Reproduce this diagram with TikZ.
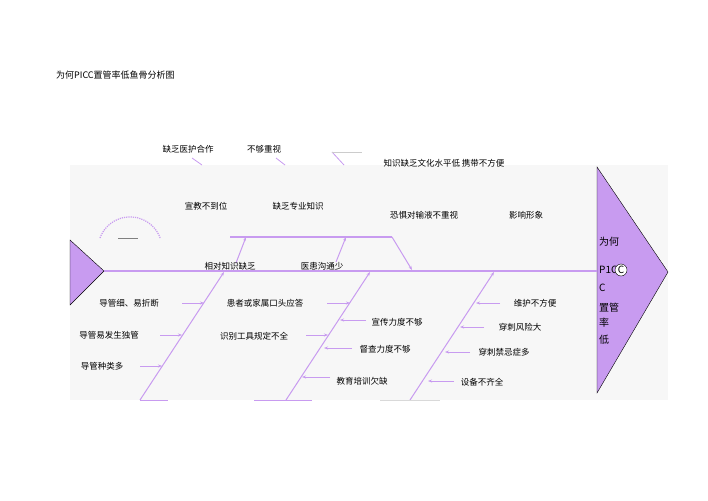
\documentclass[tikz,border=0pt]{standalone}
\usepackage{fontspec}
\setmainfont{Liberation Sans}
\newfontfamily\cjk{Noto Sans CJK SC}
\usepackage{tikz}
\usetikzlibrary{arrows.meta}
\definecolor{lav}{RGB}{200,155,240}
\tikzset{
  lbl/.style={font=\cjk\fontsize{8.5}{10}\selectfont, inner sep=1pt},
  bone/.style={draw=lav, line width=1.6pt},
  rib/.style={draw=lav, line width=1pt, -{Stealth[length=4pt]}},
  stub/.style={draw=lav, line width=0.8pt}
}
\begin{document}
\begin{tikzpicture}[x=1pt,y=-1pt]
	\useasboundingbox (0,0) rectangle (708,500);
	\fill[gray!6] (70,165) rectangle (668,400);
	\node[lbl, anchor=west, font=\cjk\fontsize{9}{11}\selectfont] (title) at (55,75) {为何PICC置管率低鱼骨分析图};
	%% spine, tail, head
	\fill[lav, draw=black, line width=0.4pt] (70,240) -- (104,271) -- (70,305) -- cycle;
	\fill[lav, draw=black, line width=0.4pt] (597,167) -- (668,272) -- (597,393) -- cycle;
	\coordinate (tail) at (104,271);
	\coordinate (head) at (597,271);
	\draw[bone] (tail) -- (head);
	\node[lbl, anchor=west, font=\cjk\fontsize{10}{12}\selectfont] (h1) at (598,242) {为何};
	\node[lbl, anchor=west, font=\cjk\fontsize{10}{12}\selectfont] (h2) at (598,270) {P1C};
	\draw[black, fill=white] (621,270) circle (6pt);
	\node[lbl, anchor=center, font=\cjk\fontsize{10}{12}\selectfont] at (621,270) {C};
	\node[lbl, anchor=west, font=\cjk\fontsize{10}{12}\selectfont] (h3) at (598,288) {C};
	\node[lbl, anchor=west, font=\cjk\fontsize{10}{12}\selectfont] (h4) at (598,308) {置管};
	\node[lbl, anchor=west, font=\cjk\fontsize{10}{12}\selectfont] (h5) at (598,323) {率};
	\node[lbl, anchor=west, font=\cjk\fontsize{10}{12}\selectfont] (h6) at (598,340) {低};
	%% dotted arc
	\draw[lav, densely dotted, line width=1.2pt] (100,238) arc[start angle=200, end angle=340, radius=32];
	\draw[gray, line width=0.4pt] (118,238) -- (138,238);
	%% upper bone
	\coordinate (u1) at (230,237);
	\coordinate (u2) at (392,237);
	\coordinate (u3) at (412,270);
	\draw[bone, line width=1.2pt] (u1) -- (u2);
	\draw[rib] (u2) -- (u3);
	\coordinate (ua) at (246,237);
	\coordinate (ub) at (346,237);
	\draw[rib] (236,263) -- (ua);
	\draw[rib] (336,262) -- (ub);
	\node[lbl] (xd) at (230,266) {相对知识缺乏};
	\node[lbl] (yh) at (322,266) {医患沟通少};
	\node[lbl] (xj) at (206,206) {宣教不到位};
	\node[lbl] (zy) at (298,206) {缺乏专业知识};
	\node[lbl] (kj) at (424,215) {恐惧对输液不重视};
	\node[lbl] (yx) at (526,215) {影响形象};
	\node[lbl] (yh2) at (188,149) {缺乏医护合作};
	\node[lbl] (bg) at (264,149) {不够重视};
	\node[lbl] (zs) at (444,163) {知识缺乏文化水平低\ 携带不方便};
	\draw[stub] (192,158) -- (202,165);
	\draw[stub] (276,158) -- (285,165);
	\draw[stub] (332,152) -- (344,165);
	\draw[gray!40, line width=0.4pt] (332,152) -- (362,152);
	%% lower bones
	\coordinate (a0) at (140,400); \coordinate (a1) at (224,272);
	\coordinate (b0) at (286,400); \coordinate (b1) at (370,272);
	\coordinate (c0) at (410,400); \coordinate (c1) at (494,272);
	\draw[rib] (a0) -- (a1);
	\draw[rib] (b0) -- (b1);
	\draw[rib] (c0) -- (c1);
	\draw[stub] (a0) -- (168,400);
	\draw[stub] (254,400) -- (312,400);
	\draw[gray!30, line width=0.6pt] (380,400) -- (440,400);
	%% causes, left of bones
	\node[lbl] (dg1) at (129,303) {导管细、易折断};
	\node[lbl] (dg2) at (109,335) {导管易发生独管};
	\node[lbl] (dg3) at (102,366) {导管种类多};
	\draw[rib] (182,303) -- (204,303);
	\draw[rib] (160,335) -- (182,335);
	\draw[rib] (140,366) -- (162,366);
	\node[lbl] (hz) at (265,303) {患者或家属口头应答};
	\node[lbl] (sb) at (254,336) {识别工具规定不全};
	\draw[rib] (327,303) -- (350,303);
	\draw[rib] (306,335) -- (328,335);
	%% causes, right of bones
	\node[lbl] (xc) at (397,322) {宣传力度不够};
	\node[lbl] (dc) at (385,349) {督查力度不够};
	\node[lbl] (jy) at (362,381) {教育培训欠缺};
	\draw[rib] (366,320) -- (340,320);
	\draw[rib] (352,348) -- (324,348);
	\draw[rib] (330,377) -- (302,377);
	\node[lbl] (wh) at (535,303) {维护不方便};
	\node[lbl] (cc) at (520,327) {穿刺风险大};
	\node[lbl] (jj) at (504,352) {穿刺禁忌症多};
	\node[lbl] (sbq) at (482,382) {设备不齐全};
	\draw[rib] (500,303) -- (476,303);
	\draw[rib] (484,327) -- (460,327);
	\draw[rib] (470,352) -- (445,352);
	\draw[rib] (454,381) -- (428,381);
\end{tikzpicture}
\end{document}
